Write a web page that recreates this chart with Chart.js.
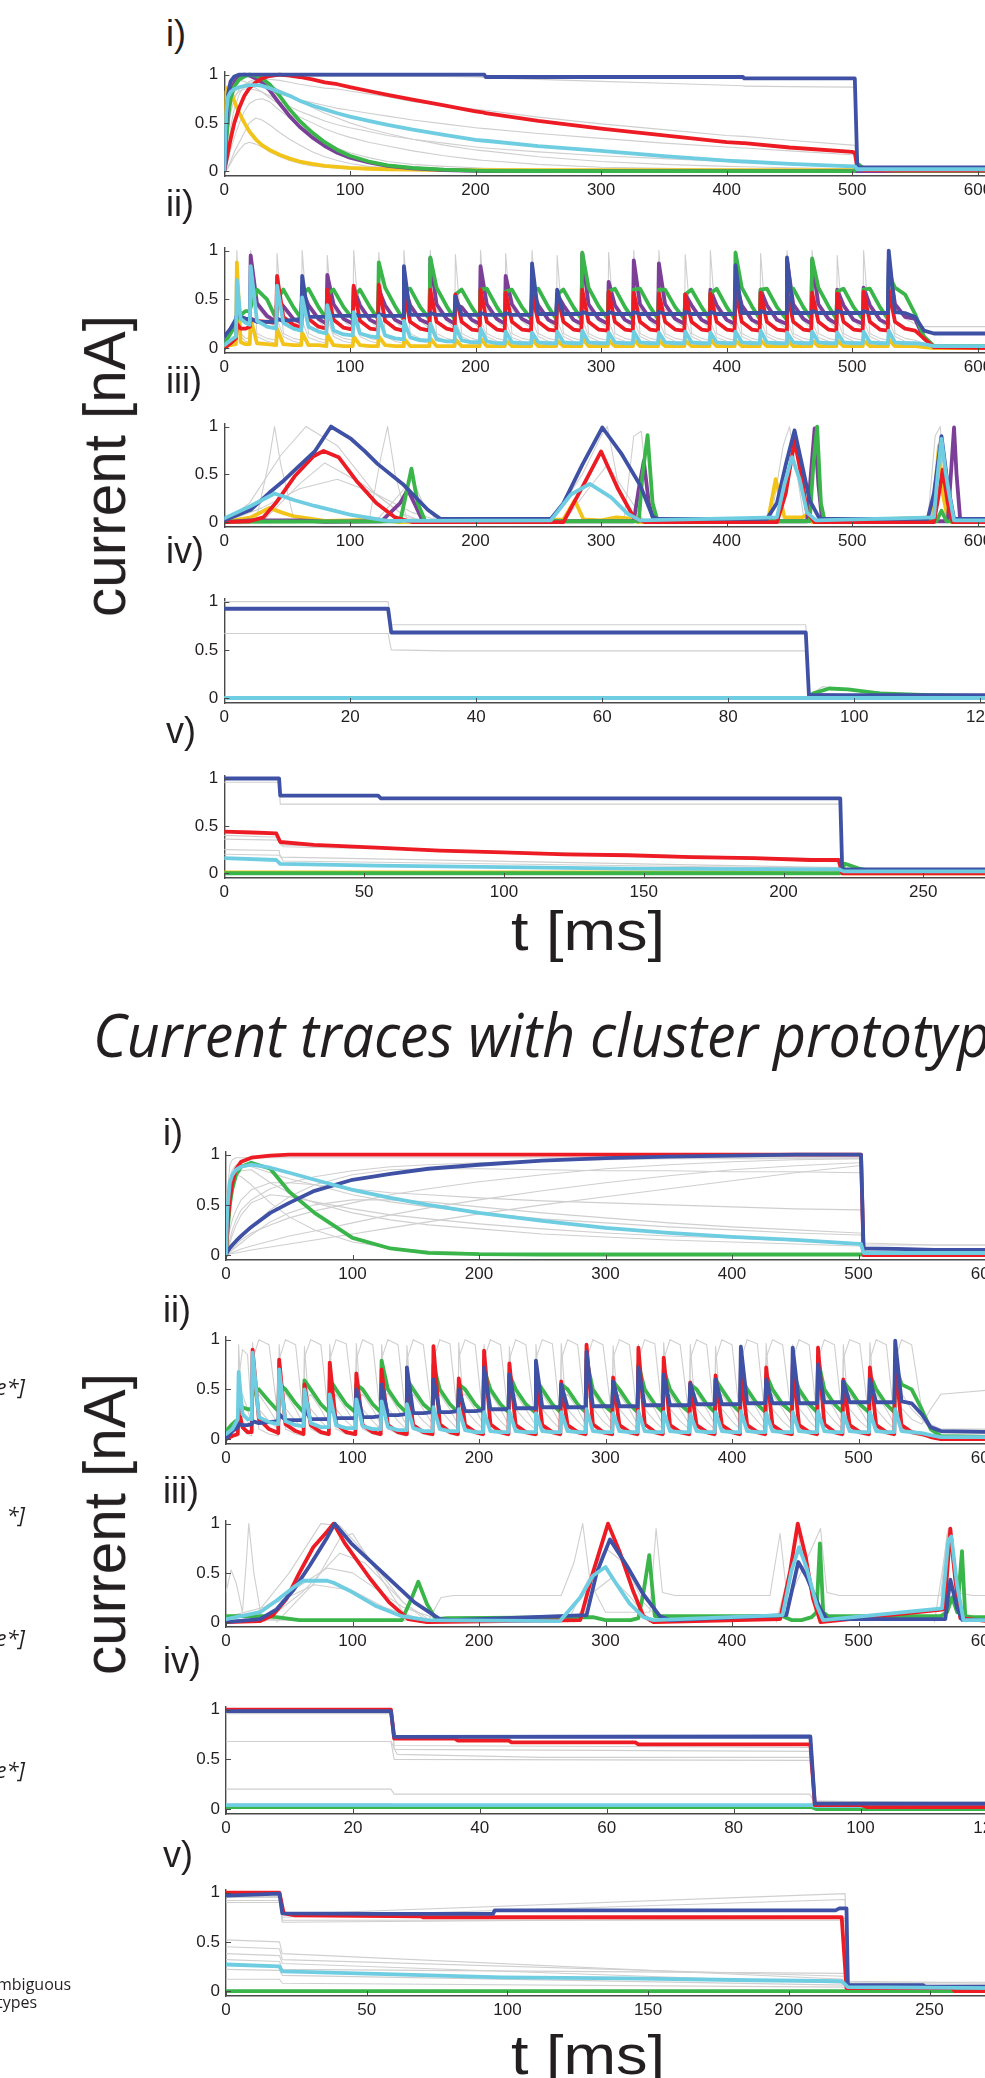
<!DOCTYPE html>
<html>
<head>
<meta charset="utf-8">
<title>Current traces with cluster prototypes</title>
<script src="https://cdn.jsdelivr.net/npm/chart.js@4.4.1/dist/chart.umd.min.js"></script>
<style>
html,body{margin:0;padding:0;background:#fff}
body{width:985px;height:2078px;overflow:hidden;position:relative;font-family:"Liberation Sans",Arial,sans-serif;color:#231f20}
canvas{position:absolute;left:0}
.lab{position:absolute;font-size:36px;line-height:1;white-space:nowrap}
.axl{position:absolute;white-space:nowrap;line-height:1}
.frag{position:absolute;white-space:nowrap;font-family:"Open Sans",sans-serif;line-height:1;color:#231f20}
</style>
</head>
<body>
<script>
const RED = '#ed1c24', BLUE = '#3f51a5', GREEN = '#39b54a', PURPLE = '#7b3f98',
      CYAN = '#6fcde2', YELLOW = '#f2c41a', GRAY = '#cfcfcf';

// tick values
const ticksMs600 = [0, 100, 200, 300, 400, 500, 600];
const ticksMs120 = [0, 20, 40, 60, 80, 100, 120];
const ticksMs250 = [0, 50, 100, 150, 200, 250];
const ticksCurrent = [0, 0.5, 1];

// ---------- top block, panel i (ms / nA) ----------
const tTopI = [0,1.5,3,5,8, 12,16,20,25,30, 36,44,52,60,70, 80,90,100,115,130, 150,175,200,207,208, 250,300,350,400,413, 414,450,500,502,504, 510,540,610];
const blueTopI = [0,0.45,0.8,0.93,0.98, 1,1,1,1,1, 1,1,1,1,1, 1,1,1,1,1, 1,1,1,1,0.975, 0.975,0.975,0.975,0.975,0.975, 0.96,0.96,0.96,0.96,0.04, 0.04,0.04,0.04];
const redTopI = [0,0.1,0.2,0.33,0.5, 0.66,0.78,0.86,0.92,0.96, 0.985,1,0.99,0.975,0.95, 0.92,0.9,0.87,0.83,0.79, 0.74,0.68,0.62,0.605,0.6, 0.52,0.44,0.37,0.3,0.29, 0.29,0.245,0.2,0.19,0.03, 0.01,0.005,0.005];
const greenTopI = [0,0.3,0.55,0.75,0.88, 0.95,0.98,1,0.99,0.96, 0.9,0.78,0.64,0.52,0.4, 0.3,0.22,0.16,0.1,0.06, 0.035,0.015,0.005,0.004,0.004, 0.002,0.001,0,0,0, 0,0,0,0.003,0.08, 0.02,0,0];
const purpleTopI = [0,0.35,0.6,0.8,0.92, 0.98,1,0.99,0.96,0.92, 0.84,0.7,0.57,0.46,0.35, 0.26,0.19,0.14,0.09,0.055, 0.03,0.01,0.003,0.002,0.002, 0,0,0,0,0, 0,0,0,0,0, 0,0,0];
const yellowTopI = [0,0.82,0.87,0.83,0.72, 0.6,0.5,0.41,0.33,0.27, 0.22,0.17,0.13,0.1,0.075, 0.055,0.045,0.035,0.025,0.02, 0.015,0.012,0.01,0.01,0.01, 0.01,0.01,0.01,0.01,0.01, 0.01,0.01,0.01,0.01,0, 0,0,0];
const cyanTopI = [0,0.6,0.77,0.82,0.85, 0.87,0.88,0.89,0.89,0.885, 0.86,0.82,0.78,0.73,0.68, 0.64,0.6,0.565,0.52,0.48, 0.43,0.375,0.325,0.315,0.315, 0.26,0.21,0.155,0.11,0.1, 0.1,0.075,0.05,0.05,0.02, 0.02,0.02,0.02];
const graysTopI = [
  [0,0.5,0.85,0.95,0.98, 0.98,0.98,0.98,0.98,0.98, 0.98,0.98,0.98,0.98,0.98, 0.98,0.98,0.98,0.98,0.98, 0.98,0.98,0.975,0.97,0.965, 0.95,0.93,0.91,0.89,0.885, 0.88,0.875,0.87,0.87,0.04, 0.04,0.03,0.03],
  [0,0.2,0.4,0.6,0.75, 0.85,0.9,0.93,0.95,0.96, 0.95,0.94,0.92,0.9,0.88, 0.86,0.85,0.83,0.8,0.77, 0.72,0.68,0.64,0.63,0.63, 0.56,0.49,0.43,0.37,0.36, 0.36,0.32,0.27,0.27,0.02, 0.02,0.02,0.02],
  [0,0.3,0.55,0.72,0.82, 0.87,0.89,0.9,0.89,0.87, 0.84,0.8,0.77,0.74,0.71, 0.68,0.65,0.63,0.6,0.57, 0.53,0.49,0.45,0.44,0.44, 0.39,0.34,0.29,0.25,0.24, 0.24,0.21,0.17,0.17,0.01, 0.01,0.01,0.01],
  [0,0.25,0.5,0.68,0.78, 0.83,0.85,0.85,0.84,0.82, 0.78,0.72,0.67,0.62,0.57, 0.52,0.48,0.45,0.41,0.37, 0.33,0.29,0.25,0.24,0.24, 0.2,0.16,0.13,0.1,0.1, 0.1,0.08,0.06,0.06,0.01, 0.01,0.01,0.01],
  [0,0.05,0.12,0.22,0.35, 0.5,0.62,0.7,0.74,0.75, 0.72,0.63,0.55,0.47,0.38, 0.3,0.24,0.19,0.14,0.1, 0.07,0.05,0.035,0.03,0.03, 0.02,0.015,0.01,0.01,0.01, 0.01,0.01,0.01,0.01,0, 0,0,0],
  [0,0.02,0.05,0.1,0.2, 0.3,0.4,0.5,0.55,0.53, 0.48,0.4,0.33,0.27,0.2, 0.15,0.11,0.08,0.05,0.035, 0.02,0.01,0.005,0,0, 0,0,0,0,0, 0,0,0,0,0, 0,0,0],
  [0,0.01,0.03,0.08,0.15, 0.22,0.28,0.3,0.28,0.25, 0.2,0.15,0.11,0.08,0.055, 0.04,0.03,0.02,0.015,0.01, 0.005,0,0,0,0, 0,0,0,0,0, 0,0,0,0,0, 0,0,0],
  [0,0.55,0.75,0.85,0.92, 0.94,0.93,0.9,0.86,0.82, 0.76,0.69,0.62,0.56,0.5, 0.44,0.39,0.35,0.3,0.26, 0.21,0.16,0.12,0.11,0.11, 0.07,0.04,0.03,0.02,0.02, 0.02,0.01,0.01,0.01,0, 0,0,0],
  [0,0.1,0.25,0.45,0.65, 0.8,0.88,0.92,0.93,0.92, 0.89,0.84,0.79,0.73,0.66, 0.6,0.55,0.5,0.44,0.39, 0.33,0.27,0.22,0.21,0.21, 0.15,0.1,0.07,0.05,0.045, 0.045,0.035,0.025,0.025,0.01, 0.01,0.01,0.01]
];

// ---------- panel ii time grid (both blocks): start, 27 spikes x [pre, spike, +5, +13], tail ----------
const tSpikes = [0,5,
  9.3,10,13,17, 20.3,21,26,34, 41.3,42,47,55, 61.3,62,67,75, 81.3,82,87,95,
  102.3,103,108,116, 122.3,123,128,136, 142.3,143,148,156, 163.3,164,169,177, 183.3,184,189,197,
  203.3,204,209,217, 223.3,224,229,237, 244.3,245,250,258, 264.3,265,270,278, 284.3,285,290,298,
  305.3,306,311,319, 325.3,326,331,339, 345.3,346,351,359, 366.3,367,372,380, 386.3,387,392,400,
  406.3,407,412,420, 426.3,427,432,440, 447.3,448,453,461, 467.3,468,473,481, 487.3,488,493,501,
  508.3,509,514,522, 528.3,529,534,542,
  550,557,565,610];

const yellowTopII = [0.02,0.03,
  0.04,0.88,0.06,0.04, 0.04,0.3,0.05,0.04, 0.03,0.2,0.04,0.03, 0.03,0.16,0.03,0.03, 0.02,0.14,0.03,0.02,
  0.02,0.12,0.03,0.02, 0.02,0.12,0.03,0.02, 0.02,0.1,0.02,0.02, 0.02,0.1,0.02,0.02, 0.02,0.09,0.02,0.02,
  0.02,0.1,0.02,0.02, 0.02,0.08,0.02,0.02, 0.02,0.09,0.02,0.02, 0.02,0.08,0.02,0.02, 0.02,0.1,0.02,0.02,
  0.02,0.08,0.02,0.02, 0.02,0.09,0.02,0.02, 0.02,0.08,0.02,0.02, 0.02,0.08,0.02,0.02, 0.02,0.09,0.02,0.02,
  0.02,0.08,0.02,0.02, 0.02,0.08,0.02,0.02, 0.02,0.09,0.02,0.02, 0.02,0.08,0.02,0.02, 0.02,0.08,0.02,0.02,
  0.02,0.08,0.02,0.02, 0.02,0.09,0.02,0.02,
  0.02,0.01,0,0];
const cyanTopII = [0.03,0.08,
  0.12,0.7,0.3,0.26, 0.24,0.84,0.28,0.22, 0.2,0.64,0.26,0.2, 0.18,0.52,0.22,0.17, 0.15,0.44,0.18,0.14,
  0.13,0.37,0.15,0.12, 0.11,0.33,0.13,0.1, 0.09,0.28,0.11,0.08, 0.08,0.25,0.09,0.07, 0.07,0.22,0.08,0.06,
  0.06,0.2,0.07,0.05, 0.05,0.17,0.06,0.05, 0.05,0.16,0.06,0.05, 0.05,0.17,0.06,0.05, 0.05,0.18,0.06,0.05,
  0.05,0.16,0.06,0.05, 0.05,0.17,0.06,0.05, 0.05,0.16,0.06,0.05, 0.05,0.17,0.06,0.05, 0.05,0.16,0.06,0.05,
  0.05,0.17,0.06,0.05, 0.05,0.18,0.06,0.05, 0.05,0.16,0.06,0.05, 0.05,0.17,0.06,0.05, 0.05,0.16,0.06,0.05,
  0.05,0.17,0.06,0.05, 0.05,0.18,0.06,0.05,
  0.05,0.04,0.02,0.02];
const redTopII = [0,0.05,
  0.1,0.25,0.2,0.2, 0.22,0.3,0.28,0.27, 0.26,0.74,0.32,0.24, 0.21,0.62,0.3,0.22, 0.2,0.6,0.29,0.21,
  0.19,0.64,0.28,0.2, 0.19,0.65,0.28,0.2, 0.18,0.58,0.27,0.2, 0.18,0.6,0.27,0.2, 0.18,0.55,0.27,0.19,
  0.18,0.6,0.27,0.19, 0.18,0.57,0.27,0.19, 0.18,0.56,0.27,0.19, 0.18,0.55,0.27,0.19, 0.18,0.6,0.27,0.19,
  0.18,0.58,0.27,0.19, 0.18,0.57,0.27,0.19, 0.18,0.56,0.27,0.19, 0.18,0.55,0.27,0.19, 0.18,0.56,0.27,0.19,
  0.18,0.6,0.27,0.19, 0.18,0.57,0.27,0.19, 0.18,0.58,0.27,0.19, 0.18,0.57,0.27,0.19, 0.18,0.56,0.27,0.19,
  0.18,0.58,0.27,0.19, 0.18,0.6,0.27,0.2,
  0.18,0.1,0.01,0];
const purpleTopII = [0.05,0.2,
  0.28,0.35,0.32,0.3, 0.3,0.95,0.46,0.33, 0.27,0.5,0.43,0.3, 0.26,0.6,0.44,0.3, 0.25,0.75,0.45,0.3,
  0.25,0.62,0.44,0.29, 0.25,0.6,0.44,0.29, 0.25,0.65,0.44,0.29, 0.25,0.92,0.45,0.3, 0.25,0.45,0.42,0.29,
  0.25,0.84,0.45,0.3, 0.25,0.74,0.45,0.3, 0.25,0.6,0.44,0.29, 0.25,0.55,0.44,0.29, 0.25,0.97,0.45,0.3,
  0.25,0.68,0.44,0.29, 0.25,0.9,0.45,0.3, 0.25,0.87,0.45,0.3, 0.25,0.55,0.44,0.29, 0.25,0.6,0.44,0.29,
  0.25,0.7,0.44,0.29, 0.25,0.6,0.44,0.29, 0.25,0.9,0.45,0.3, 0.25,0.9,0.45,0.3, 0.25,0.6,0.44,0.29,
  0.25,0.62,0.44,0.29, 0.25,0.9,0.45,0.32,
  0.3,0.1,0.01,0.01];
const greenTopII = [0.05,0.15,
  0.25,0.3,0.34,0.38, 0.38,0.42,0.6,0.5, 0.3,0.5,0.6,0.42, 0.3,0.55,0.61,0.42, 0.3,0.55,0.6,0.42,
  0.3,0.52,0.6,0.42, 0.3,0.88,0.62,0.43, 0.3,0.6,0.61,0.42, 0.3,0.93,0.62,0.43, 0.3,0.55,0.6,0.42,
  0.3,0.6,0.61,0.42, 0.3,0.58,0.6,0.42, 0.3,0.6,0.61,0.42, 0.3,0.55,0.6,0.42, 0.3,0.98,0.62,0.43,
  0.3,0.58,0.61,0.42, 0.3,0.6,0.61,0.42, 0.3,0.6,0.6,0.42, 0.3,0.55,0.6,0.42, 0.3,0.56,0.61,0.42,
  0.3,0.98,0.62,0.43, 0.3,0.6,0.61,0.42, 0.3,0.62,0.61,0.42, 0.3,0.92,0.62,0.43, 0.3,0.58,0.61,0.42,
  0.3,0.6,0.61,0.42, 0.3,0.75,0.62,0.55,
  0.35,0.12,0.02,0.02];
const blueTopII = [0.12,0.2,
  0.3,0.33,0.32,0.3, 0.28,0.3,0.27,0.27, 0.27,0.3,0.28,0.29, 0.3,0.74,0.32,0.32, 0.32,0.34,0.33,0.33,
  0.33,0.35,0.33,0.33, 0.33,0.35,0.33,0.33, 0.33,0.84,0.34,0.34, 0.34,0.36,0.34,0.34, 0.34,0.53,0.34,0.34,
  0.34,0.36,0.34,0.34, 0.34,0.36,0.34,0.34, 0.34,0.87,0.35,0.35, 0.35,0.6,0.35,0.35, 0.35,0.37,0.35,0.35,
  0.35,0.37,0.35,0.35, 0.35,0.37,0.35,0.35, 0.35,0.37,0.35,0.35, 0.35,0.37,0.35,0.35, 0.35,0.37,0.35,0.35,
  0.35,0.85,0.36,0.36, 0.36,0.38,0.36,0.36, 0.36,0.93,0.36,0.36, 0.36,0.38,0.36,0.36, 0.36,0.38,0.36,0.36,
  0.36,0.38,0.36,0.36, 0.36,1,0.37,0.36,
  0.32,0.18,0.15,0.15];
const graysTopII = [
  [0.05,0.1,
   0.08,1,0.15,0.1, 0.1,1,0.15,0.1, 0.08,0.97,0.15,0.1, 0.08,1,0.15,0.1, 0.08,0.95,0.15,0.1,
   0.08,1,0.15,0.1, 0.08,0.98,0.15,0.1, 0.08,1,0.15,0.1, 0.08,1,0.15,0.1, 0.08,0.96,0.15,0.1,
   0.08,1,0.15,0.1, 0.08,0.97,0.15,0.1, 0.08,1,0.15,0.1, 0.08,0.95,0.15,0.1, 0.08,1,0.15,0.1,
   0.08,0.98,0.15,0.1, 0.08,1,0.15,0.1, 0.08,1,0.15,0.1, 0.08,0.96,0.15,0.1, 0.08,1,0.15,0.1,
   0.08,1,0.15,0.1, 0.08,0.97,0.15,0.1, 0.08,1,0.15,0.1, 0.08,1,0.15,0.1, 0.08,0.95,0.15,0.1,
   0.08,1,0.15,0.1, 0.08,1,0.15,0.1,
   0.08,0.05,0.03,0.03],
  [0.1,0.2,
   0.2,0.45,0.4,0.28, 0.22,0.5,0.42,0.3, 0.2,0.46,0.4,0.28, 0.2,0.45,0.41,0.28, 0.2,0.47,0.4,0.28,
   0.2,0.45,0.4,0.28, 0.2,0.48,0.41,0.28, 0.2,0.45,0.4,0.28, 0.2,0.46,0.4,0.28, 0.2,0.45,0.41,0.28,
   0.2,0.47,0.4,0.28, 0.2,0.45,0.4,0.28, 0.2,0.46,0.41,0.28, 0.2,0.45,0.4,0.28, 0.2,0.48,0.4,0.28,
   0.2,0.45,0.41,0.28, 0.2,0.46,0.4,0.28, 0.2,0.45,0.4,0.28, 0.2,0.47,0.41,0.28, 0.2,0.45,0.4,0.28,
   0.2,0.46,0.4,0.28, 0.2,0.45,0.41,0.28, 0.2,0.48,0.4,0.28, 0.2,0.45,0.4,0.28, 0.2,0.46,0.41,0.28,
   0.2,0.45,0.4,0.28, 0.2,0.47,0.42,0.3,
   0.25,0.22,0.22,0.22],
  [0.02,0.05,
   0.05,0.3,0.12,0.07, 0.06,0.32,0.12,0.07, 0.05,0.3,0.12,0.07, 0.05,0.28,0.11,0.07, 0.05,0.3,0.12,0.07,
   0.05,0.29,0.12,0.07, 0.05,0.3,0.12,0.07, 0.05,0.28,0.11,0.07, 0.05,0.3,0.12,0.07, 0.05,0.29,0.12,0.07,
   0.05,0.3,0.12,0.07, 0.05,0.28,0.11,0.07, 0.05,0.3,0.12,0.07, 0.05,0.29,0.12,0.07, 0.05,0.3,0.12,0.07,
   0.05,0.28,0.11,0.07, 0.05,0.3,0.12,0.07, 0.05,0.29,0.12,0.07, 0.05,0.3,0.12,0.07, 0.05,0.28,0.11,0.07,
   0.05,0.3,0.12,0.07, 0.05,0.29,0.12,0.07, 0.05,0.3,0.12,0.07, 0.05,0.28,0.11,0.07, 0.05,0.3,0.12,0.07,
   0.05,0.29,0.12,0.07, 0.05,0.3,0.12,0.07,
   0.05,0.03,0.02,0.02]
];

// ---------- top block, panel iii (each trace on its own times) ----------
const blueTopIIIt = [0,21,36,46,59, 72,85,101,112,122, 142,162,172,260,270, 285,301,316,331,341, 345,432,440,447,454, 460,466,474,560,565, 571,576,581,610];
const blueTopIIIv = [0.02,0.13,0.31,0.42,0.58, 0.74,1,0.87,0.74,0.61, 0.4,0.13,0.035,0.035,0.2, 0.6,0.99,0.72,0.39,0.06, 0.035,0.035,0.2,0.6,0.96, 0.6,0.23,0.035,0.035,0.3, 0.9,0.39,0.035,0.035];
const redTopIIIt = [0,20,31,41,56, 71,79,91,106,121, 136,150,270,286,300, 313,326,335,440,447, 454,460,464,470,565, 569,572,576,580,610];
const redTopIIIv = [0,0.01,0.05,0.2,0.48, 0.69,0.745,0.68,0.42,0.2, 0.05,0,0,0.39,0.74, 0.36,0.05,0,0,0.3, 0.85,0.45,0.1,0,0, 0.3,0.55,0.2,0,0];
const greenTopIIIt = [0,140,144,149,154, 160,330,333,337,341, 345,466,469,472,475, 478,567,571,575,610];
const greenTopIIIv = [0.005,0.01,0.25,0.56,0.2, 0.01,0.01,0.5,0.91,0.2, 0.01,0.01,0.6,1,0.2, 0.01,0.01,0.12,0.01,0.005];
const purpleTopIIIt = [0,20,40,60,80, 125,140,146,152,158, 326,330,334,338,342, 464,467,470,473,476, 576,579,581,583,586, 610];
const purpleTopIIIv = [0,0.02,0.02,0.02,0.005, 0.01,0.2,0.34,0.18,0.01, 0.01,0.35,0.64,0.2,0.01, 0.01,0.5,0.98,0.4,0.01, 0.01,0.6,0.99,0.5,0.01, 0];
const cyanTopIIIt = [0,21,40,56,72, 100,130,260,276,291, 308,321,331,440,446, 452,458,464,471,565, 568,571,574,577,581, 610];
const cyanTopIIIv = [0.04,0.17,0.3,0.23,0.17, 0.08,0.015,0.02,0.29,0.4, 0.26,0.09,0.02,0.05,0.4, 0.68,0.45,0.1,0.02,0.05, 0.5,0.87,0.55,0.3,0.02, 0.02];
const yellowTopIIIt = [0,21,36,46,56, 80,100,121,140,270, 279,286,300,312,322, 330,433,439,446,460, 464,468,564,569,572, 575,579,610];
const yellowTopIIIv = [0,0.05,0.15,0.1,0.06, 0.015,0.02,0.03,0,0.03, 0.23,0.03,0.02,0.05,0.04, 0,0.03,0.45,0.05,0.05, 0.08,0,0.05,0.8,0.3, 0.1,0,0];
const graysTopIII = [
  [[0,20,45,65,90,120,145,170], [0,0.2,0.7,1,0.8,0.3,0.05,0]],
  [[25,35,40,45,55], [0,0.6,1,0.6,0.05]],
  [[30,60,80,110,140,160], [0,0.4,0.62,0.4,0.1,0]],
  [[115,125,130,136,145], [0,0.7,1,0.5,0.05]],
  [[260,285,300,305,315,330], [0,0.5,0.9,1,0.3,0]],
  [[318,326,332,338,346], [0,0.9,0.95,0.2,0]],
  [[435,445,450,456,462], [0,0.8,1,0.5,0]],
  [[560,566,570,574,580], [0,0.9,1,0.4,0]],
  [[0,30,60,90,120,150,175], [0,0.15,0.35,0.45,0.3,0.1,0]],
  [[270,290,305,320,335], [0,0.35,0.6,0.3,0]],
  [[120,140,150,158,170], [0,0.3,0.45,0.2,0]]
];

// ---------- top block, panel iv ----------
const blueTopIVt = [0,26,26.5,92.3,92.8,121];
const blueTopIVv = [0.926,0.926,0.68,0.68,0.03,0.03];
const greenTopIVt = [0,92.5,93.5,96,99,104,112,121];
const greenTopIVv = [0,0,0.05,0.1,0.09,0.05,0.03,0.02];
const cyanTopIVt = [0,92.5,93,121];
const cyanTopIVv = [0.002,0.002,0.002,0.002];
const purpleTopIVt = [0,92.5,94,100,121];
const purpleTopIVv = [0,0,0.03,0.02,0.02];
const graysTopIV = [
  [[0,26,26.5,92.3,92.8,121], [1,1,0.76,0.76,0.03,0.03]],
  [[0,26,26.5,35,92.3,92.8,121], [0.67,0.67,0.5,0.49,0.49,0.02,0.02]],
  [[0,92.5,95,100,110,121], [0.01,0.01,0.12,0.08,0.04,0.03]]
];

// ---------- top block, panel v ----------
const blueTopVt = [0,19.6,20,55,56,220.3,221,275];
const blueTopVv = [1,1,0.82,0.82,0.79,0.79,0.04,0.04];
const redTopVt = [0,10,18.6,20,32,54.5,77,99.5,122,144.5,167,189.3,209.6,219.7,221,275];
const redTopVv = [0.44,0.43,0.42,0.33,0.3,0.27,0.24,0.22,0.2,0.19,0.17,0.16,0.14,0.14,0,0];
const cyanTopVt = [0,18.6,20,54.5,99.5,144.5,211.6,220,221.5,275];
const cyanTopVv = [0.16,0.14,0.1,0.08,0.065,0.05,0.04,0.04,0.02,0.02];
const yellowTopVt = [0,220,221,275];
const yellowTopVv = [0.01,0.01,0,0];
const greenTopVt = [0,220,222,227,232,275];
const greenTopVv = [0,0,0.1,0.05,0.02,0.01];
const graysTopV = [
  [[0,19.6,20,220.3,221,275], [0.96,0.96,0.73,0.73,0.03,0.03]],
  [[0,19.6,20,220.3,221,275], [0.4,0.38,0.3,0.12,0.01,0.01]],
  [[0,19.6,20,220,221,275], [0.25,0.24,0.17,0.06,0.02,0.02]],
  [[0,20,21,220,221,275], [0.2,0.19,0.13,0.05,0.01,0.01]],
  [[0,20,21,220,221,275], [0.36,0.35,0.28,0.15,0.01,0.01]]
];

// ---------- bottom block, panel i ----------
const tBotI = [0,1,3,5,8, 12,20,35,50,70, 100,130,160,200,250, 300,350,400,450,500, 502,504,530,560,610];
const redBotI = [0,0.25,0.55,0.72,0.86, 0.93,0.97,0.99,1,1, 1,1,1,1,1, 1,1,1,1,1, 1,0,0,0,0];
const greenBotI = [0,0.2,0.5,0.66,0.8, 0.88,0.92,0.86,0.63,0.42, 0.17,0.065,0.022,0.008,0.005, 0.005,0.005,0.005,0.005,0.005, 0.005,0,0,0,0];
const cyanBotI = [0,0.45,0.72,0.8,0.85, 0.88,0.9,0.87,0.82,0.75, 0.65,0.57,0.5,0.42,0.34, 0.27,0.22,0.18,0.15,0.11, 0.11,0.02,0.02,0.02,0.02];
const blueBotI = [0,0.03,0.07,0.1,0.14, 0.19,0.28,0.42,0.52,0.64, 0.75,0.81,0.86,0.9,0.94, 0.965,0.98,0.99,1,1, 1,0.065,0.06,0.05,0.05];
const graysBotI = [
  [0,0.01,0.04,0.06,0.1, 0.15,0.22,0.3,0.37,0.44, 0.52,0.6,0.66,0.73,0.8, 0.86,0.9,0.93,0.95,0.96, 0.96,0.05,0.05,0.04,0.04],
  [0,0.005,0.015,0.025,0.04, 0.06,0.09,0.14,0.19,0.24, 0.32,0.4,0.47,0.55,0.64, 0.72,0.79,0.85,0.89,0.92, 0.92,0.08,0.07,0.06,0.06],
  [0,0,0.01,0.015,0.02, 0.03,0.05,0.08,0.11,0.15, 0.21,0.27,0.33,0.41,0.5, 0.58,0.66,0.74,0.82,0.89, 0.89,0.05,0.05,0.05,0.05],
  [0,0.05,0.15,0.25,0.35, 0.45,0.55,0.66,0.72,0.78, 0.84,0.88,0.9,0.92,0.94, 0.95,0.96,0.96,0.96,0.96, 0.96,0.1,0.1,0.1,0.1],
  [0,0.4,0.75,0.85,0.9, 0.9,0.88,0.82,0.76,0.7, 0.6,0.53,0.48,0.42,0.36, 0.32,0.28,0.25,0.22,0.2, 0.2,0.03,0.03,0.03,0.03],
  [0,0.3,0.6,0.72,0.8, 0.84,0.85,0.72,0.62,0.52, 0.42,0.35,0.3,0.26,0.21, 0.18,0.15,0.13,0.11,0.09, 0.09,0.02,0.02,0.02,0.02],
  [0,0.05,0.12,0.2,0.3, 0.4,0.52,0.6,0.58,0.53, 0.46,0.4,0.36,0.31,0.26, 0.22,0.19,0.17,0.14,0.12, 0.12,0.01,0.01,0.01,0.01],
  [0,0.35,0.65,0.75,0.8, 0.78,0.7,0.52,0.38,0.25, 0.13,0.07,0.04,0.02,0.01, 0.005,0,0,0,0, 0,0,0,0,0],
  [0,0.01,0.03,0.05,0.08, 0.12,0.2,0.33,0.42,0.5, 0.55,0.55,0.53,0.48,0.42, 0.37,0.32,0.28,0.25,0.22, 0.22,0.02,0.02,0.02,0.02],
  [0,0.6,0.9,0.95,0.97, 0.97,0.97,0.97,0.97,0.97, 0.97,0.97,0.97,0.97,0.97, 0.97,0.97,0.97,0.97,0.97, 0.97,0.12,0.11,0.1,0.1],
  [0,0.1,0.25,0.35,0.45, 0.55,0.65,0.72,0.72,0.7, 0.66,0.62,0.6,0.57,0.54, 0.52,0.5,0.48,0.46,0.45, 0.45,0.02,0.02,0.02,0.02],
  [0,0.02,0.05,0.08,0.12, 0.18,0.28,0.45,0.58,0.7, 0.8,0.85,0.86,0.86,0.85, 0.84,0.84,0.83,0.83,0.82, 0.82,0.06,0.06,0.06,0.06]
];

// ---------- bottom block, panel ii (on tSpikes) ----------
const redBotII = [0,0.03,
  0.05,0.3,0.12,0.07, 0.07,0.9,0.2,0.1, 0.06,0.8,0.15,0.08, 0.05,0.55,0.14,0.07, 0.05,0.77,0.15,0.07,
  0.05,0.66,0.14,0.07, 0.05,0.7,0.14,0.07, 0.05,0.62,0.14,0.07, 0.05,0.935,0.15,0.07, 0.05,0.61,0.14,0.07,
  0.05,0.89,0.15,0.07, 0.05,0.76,0.14,0.07, 0.05,0.7,0.14,0.07, 0.05,0.58,0.14,0.07, 0.05,0.95,0.15,0.07,
  0.05,0.62,0.14,0.07, 0.05,0.92,0.15,0.07, 0.05,0.82,0.14,0.07, 0.05,0.57,0.14,0.07, 0.05,0.64,0.14,0.07,
  0.05,0.7,0.14,0.07, 0.05,0.72,0.14,0.07, 0.05,0.75,0.14,0.07, 0.05,0.92,0.15,0.07, 0.05,0.6,0.14,0.07,
  0.05,0.72,0.14,0.07, 0.05,0.8,0.14,0.07,
  0.05,0.02,0,0];
const greenBotII = [0.08,0.15,
  0.2,0.3,0.32,0.3, 0.3,0.45,0.5,0.38, 0.28,0.55,0.5,0.36, 0.27,0.59,0.5,0.35, 0.27,0.6,0.5,0.35,
  0.27,0.55,0.5,0.35, 0.27,0.79,0.5,0.35, 0.27,0.6,0.5,0.35, 0.27,0.75,0.5,0.35, 0.27,0.55,0.5,0.35,
  0.27,0.7,0.5,0.35, 0.27,0.65,0.5,0.35, 0.27,0.6,0.5,0.35, 0.27,0.55,0.5,0.35, 0.27,0.8,0.5,0.35,
  0.27,0.58,0.5,0.35, 0.27,0.75,0.5,0.35, 0.27,0.7,0.5,0.35, 0.27,0.55,0.5,0.35, 0.27,0.6,0.5,0.35,
  0.27,0.62,0.5,0.35, 0.27,0.65,0.5,0.35, 0.27,0.68,0.5,0.35, 0.27,0.8,0.5,0.35, 0.27,0.58,0.5,0.35,
  0.27,0.65,0.5,0.35, 0.27,0.75,0.55,0.5,
  0.3,0.1,0.03,0.02];
const blueBotII = [0,0.08,
  0.12,0.15,0.14,0.14, 0.15,0.18,0.16,0.17, 0.18,0.25,0.19,0.19, 0.19,0.3,0.2,0.2, 0.2,0.35,0.21,0.21,
  0.21,0.5,0.22,0.22, 0.23,0.55,0.24,0.24, 0.25,0.72,0.26,0.26, 0.27,0.6,0.27,0.27, 0.28,0.5,0.28,0.28,
  0.29,0.72,0.3,0.3, 0.3,0.65,0.31,0.31, 0.31,0.79,0.32,0.32, 0.32,0.55,0.32,0.32, 0.32,0.88,0.33,0.33,
  0.33,0.58,0.33,0.33, 0.33,0.72,0.34,0.34, 0.34,0.65,0.34,0.34, 0.34,0.56,0.35,0.35, 0.35,0.6,0.35,0.35,
  0.35,0.93,0.36,0.36, 0.36,0.6,0.36,0.36, 0.36,0.92,0.36,0.36, 0.36,0.75,0.37,0.37, 0.37,0.58,0.37,0.37,
  0.37,0.6,0.37,0.37, 0.37,0.99,0.38,0.36,
  0.25,0.12,0.08,0.07];
const cyanBotII = [0.05,0.1,
  0.2,0.675,0.25,0.2, 0.2,0.87,0.22,0.17, 0.15,0.7,0.18,0.14, 0.13,0.5,0.16,0.12, 0.12,0.45,0.14,0.11,
  0.11,0.4,0.13,0.1, 0.1,0.38,0.12,0.09, 0.09,0.35,0.11,0.08, 0.08,0.32,0.1,0.08, 0.08,0.3,0.09,0.07,
  0.07,0.27,0.08,0.07, 0.07,0.28,0.08,0.07, 0.07,0.26,0.08,0.07, 0.07,0.27,0.08,0.07, 0.07,0.3,0.08,0.07,
  0.07,0.26,0.08,0.07, 0.07,0.28,0.08,0.07, 0.07,0.27,0.08,0.07, 0.07,0.25,0.08,0.07, 0.07,0.27,0.08,0.07,
  0.07,0.28,0.08,0.07, 0.07,0.26,0.08,0.07, 0.07,0.27,0.08,0.07, 0.07,0.28,0.08,0.07, 0.07,0.26,0.08,0.07,
  0.07,0.27,0.08,0.07, 0.07,0.3,0.08,0.07,
  0.06,0.04,0.02,0.02];
const graysBotII = [
  [0.05,0.1,
   0.15,0.6,0.9,0.85, 0.2,0.8,1,0.95, 0.2,0.8,1,0.95, 0.2,0.82,1,0.95, 0.2,0.8,1,0.96,
   0.2,0.8,1,0.95, 0.2,0.81,1,0.95, 0.2,0.8,1,0.95, 0.2,0.8,1,0.96, 0.2,0.82,1,0.95,
   0.2,0.8,1,0.95, 0.2,0.8,1,0.95, 0.2,0.81,1,0.96, 0.2,0.8,1,0.95, 0.2,0.8,1,0.95,
   0.2,0.82,1,0.95, 0.2,0.8,1,0.96, 0.2,0.8,1,0.95, 0.2,0.81,1,0.95, 0.2,0.8,1,0.95,
   0.2,0.8,1,0.96, 0.2,0.82,1,0.95, 0.2,0.8,1,0.95, 0.2,0.8,1,0.95, 0.2,0.81,1,0.96,
   0.2,0.8,1,0.95, 0.2,0.8,1,0.95,
   0.3,0.15,0.1,0.1],
  [0.02,0.05,
   0.1,0.5,0.3,0.18, 0.1,0.52,0.3,0.18, 0.1,0.5,0.31,0.18, 0.1,0.48,0.3,0.18, 0.1,0.5,0.3,0.18,
   0.1,0.51,0.3,0.18, 0.1,0.5,0.31,0.18, 0.1,0.49,0.3,0.18, 0.1,0.5,0.3,0.18, 0.1,0.52,0.3,0.18,
   0.1,0.5,0.31,0.18, 0.1,0.48,0.3,0.18, 0.1,0.5,0.3,0.18, 0.1,0.51,0.3,0.18, 0.1,0.5,0.31,0.18,
   0.1,0.49,0.3,0.18, 0.1,0.5,0.3,0.18, 0.1,0.52,0.3,0.18, 0.1,0.5,0.31,0.18, 0.1,0.48,0.3,0.18,
   0.1,0.5,0.3,0.18, 0.1,0.51,0.3,0.18, 0.1,0.5,0.31,0.18, 0.1,0.49,0.3,0.18, 0.1,0.5,0.3,0.18,
   0.1,0.52,0.3,0.18, 0.1,0.5,0.31,0.2,
   0.15,0.3,0.45,0.5],
  [0.05,0.1,
   0.15,0.4,0.45,0.3, 0.15,0.42,0.45,0.3, 0.15,0.4,0.46,0.3, 0.15,0.38,0.45,0.3, 0.15,0.4,0.45,0.3,
   0.15,0.41,0.45,0.3, 0.15,0.4,0.46,0.3, 0.15,0.39,0.45,0.3, 0.15,0.4,0.45,0.3, 0.15,0.42,0.45,0.3,
   0.15,0.4,0.46,0.3, 0.15,0.38,0.45,0.3, 0.15,0.4,0.45,0.3, 0.15,0.41,0.45,0.3, 0.15,0.4,0.46,0.3,
   0.15,0.39,0.45,0.3, 0.15,0.4,0.45,0.3, 0.15,0.42,0.45,0.3, 0.15,0.4,0.46,0.3, 0.15,0.38,0.45,0.3,
   0.15,0.4,0.45,0.3, 0.15,0.41,0.45,0.3, 0.15,0.4,0.46,0.3, 0.15,0.39,0.45,0.3, 0.15,0.4,0.45,0.3,
   0.15,0.42,0.45,0.3, 0.15,0.4,0.46,0.3,
   0.2,0.1,0.05,0.05],
  [0.01,0.02,
   0.03,0.95,0.1,0.05, 0.03,0.97,0.1,0.05, 0.03,0.95,0.1,0.05, 0.03,0.93,0.1,0.05, 0.03,0.95,0.1,0.05,
   0.03,0.96,0.1,0.05, 0.03,0.95,0.1,0.05, 0.03,0.94,0.1,0.05, 0.03,0.95,0.1,0.05, 0.03,0.97,0.1,0.05,
   0.03,0.95,0.1,0.05, 0.03,0.93,0.1,0.05, 0.03,0.95,0.1,0.05, 0.03,0.96,0.1,0.05, 0.03,0.95,0.1,0.05,
   0.03,0.94,0.1,0.05, 0.03,0.95,0.1,0.05, 0.03,0.97,0.1,0.05, 0.03,0.95,0.1,0.05, 0.03,0.93,0.1,0.05,
   0.03,0.95,0.1,0.05, 0.03,0.96,0.1,0.05, 0.03,0.95,0.1,0.05, 0.03,0.94,0.1,0.05, 0.03,0.95,0.1,0.05,
   0.03,0.97,0.1,0.05, 0.03,0.95,0.1,0.05,
   0.03,0.02,0.02,0.02]
];

// ---------- bottom block, panel iii ----------
const redBotIIIt = [0,27,37,48,58, 69,80,85,94,114, 129,144,159,280,290, 302,311,322,330,338, 438,446,452,458,464, 470,568,572.6,576.5,580.5, 610];
const redBotIIIv = [0,0.01,0.07,0.24,0.5, 0.76,0.92,1,0.8,0.44, 0.2,0.03,0,0.02,0.5, 1,0.72,0.31,0.06,0, 0.03,0.52,1,0.68,0.24, 0,0.13,0.95,0.43,0.04, 0];
const blueBotIIIt = [0,27,40,53,66, 80,86,99,124,149, 169,179,285,293,303.5, 317,330,343,351,443, 452.4,459,469.5,475,568.6, 572.6,578,582,610];
const blueBotIIIv = [0,0.03,0.13,0.32,0.57, 0.86,1,0.8,0.5,0.2, 0.03,0.02,0.07,0.5,0.84, 0.57,0.28,0.06,0.02,0.07, 0.61,0.46,0.14,0.03,0.03, 0.43,0.14,0.02,0.02];
const cyanBotIIIt = [0,27,40,53,61, 80,85,99,119,139, 159,264,280,290,300, 309,319,330,338,440, 447,453,459,467,472, 566,571,573.4,578,583, 610];
const cyanBotIIIv = [0.03,0.1,0.22,0.35,0.42, 0.42,0.4,0.31,0.16,0.06, 0.02,0.01,0.25,0.47,0.56, 0.38,0.19,0.05,0.02,0.07, 0.52,0.76,0.55,0.17,0.02, 0.14,0.83,0.87,0.37,0.02, 0.02];
const greenBotIIIt = [0,30,40,58,139, 147,152,159,166,175, 290,300,320,326,330, 334.6,339,345,440,447, 455,463,466.8,469.5,472.1, 476,565,570,574,578, 581.8,584.4,590,610];
const greenBotIIIv = [0.06,0.06,0.05,0.02,0.02, 0.25,0.41,0.18,0.03,0.04, 0.05,0.02,0.02,0.04,0.3, 0.68,0.06,0.06,0.06,0.02, 0.02,0.05,0.1,0.8,0.1, 0.06,0.06,0.1,0.25,0.1, 0.72,0.06,0.05,0.05];
const graysBotIII = [
  [[0,4,8,13,16,18,22,28,40], [0.3,0.53,0.4,0.1,0.6,1,0.5,0.05,0.02]],
  [[20,50,75,90,110,140,160], [0.02,0.5,1,0.98,0.7,0.2,0.03]],
  [[30,60,90,110,140,160], [0,0.3,0.7,0.6,0.2,0]],
  [[10,40,70,100,125,150,170], [0,0.2,0.38,0.32,0.15,0.05,0]],
  [[40,70,90,100,120,140,155], [0,0.4,0.85,0.9,0.5,0.1,0]],
  [[0,160,170,180,265, 275,282,288,300,335, 340,345,355,430,438, 444,470,475,485,565, 570,578,590,610],
   [0.02,0.02,0.25,0.27,0.27, 0.6,1,0.4,0.1,0.1, 0.95,0.3,0.27,0.27,0.9, 0.2,0.95,0.3,0.27,0.27, 0.9,0.3,0.27,0.27]],
  [[270,285,300,315,330,345], [0,0.4,0.75,0.6,0.2,0]],
  [[275,290,305,320,335], [0,0.3,0.45,0.25,0]],
  [[435,445,452,460,470], [0,0.5,0.9,0.4,0]],
  [[560,566,571,576,585], [0,0.5,0.95,0.4,0]],
  [[0,30,50,80,100,140,170], [0.05,0.15,0.3,0.55,0.5,0.15,0.02]]
];

// ---------- bottom block, panel iv ----------
const blueBotIVt = [0,26,26.5,92.1,92.8,120];
const blueBotIVv = [0.985,0.985,0.726,0.73,0.055,0.055];
const redBotIVt = [0,26,26.5,36,36.5,44.5,45,64.5,65,92.1,92.8,100,101,120];
const redBotIVv = [1,1,0.71,0.71,0.69,0.69,0.67,0.67,0.65,0.65,0.04,0.04,0.02,0.02];
const cyanBotIVt = [0,92.3,93,120];
const cyanBotIVv = [0.04,0.04,0.03,0.03];
const greenBotIVt = [0,92.3,93,120];
const greenBotIVv = [0.02,0.02,0,0];
const graysBotIV = [
  [[0,26,26.5,92,92.8,120], [0.96,0.96,0.74,0.74,0.06,0.06]],
  [[0,26,26.5,92,92.8,120], [0.68,0.68,0.5,0.49,0.05,0.05]],
  [[0,26,26.5,92,92.8,120], [0.2,0.2,0.15,0.15,0.06,0.06]],
  [[0,26,26.5,92,92.8,120], [0.98,0.98,0.64,0.62,0.07,0.07]],
  [[0,26,26.5,92,92.8,120], [0.97,0.97,0.6,0.58,0.08,0.06]],
  [[0,26,26.5,92,92.8,120], [0.05,0.05,0.04,0.04,0.08,0.05]],
  [[0,26,27,50,92,92.8,120], [0.68,0.68,0.55,0.52,0.52,0.04,0.04]]
];

// ---------- bottom block, panel v ----------
const blueBotVt = [0,19,20,53.6,94.9,95.5,216.6,218,220.5,221,247.8,248.5,275];
const blueBotVv = [0.97,0.99,0.79,0.785,0.785,0.82,0.82,0.84,0.84,0.06,0.06,0.045,0.045];
const redBotVt = [0,19,20.5,24.6,69.2,70,218.8,220.5,258,259,275];
const redBotVv = [1,1,0.79,0.77,0.76,0.75,0.75,0.03,0.03,0,0];
const cyanBotVt = [0,19,20,53.6,98,142.6,187.2,218.8,221,275];
const cyanBotVv = [0.27,0.25,0.2,0.175,0.14,0.13,0.11,0.1,0.04,0.03];
const greenBotVt = [0,220,221,275];
const greenBotVv = [0,0,0,0];
const graysBotV = [
  [[0,19,20,220,221,275], [0.95,0.95,0.78,0.99,0.1,0.08]],
  [[0,19,20,220,221,275], [0.92,0.92,0.75,0.93,0.08,0.07]],
  [[0,19,20,220,221,275], [0.96,0.96,0.72,0.72,0.05,0.05]],
  [[0,19,20,220,221,275], [0.9,0.9,0.7,0.74,0.06,0.05]],
  [[0,19,20,220,221,275], [0.52,0.5,0.38,0.12,0.04,0.04]],
  [[0,19,20,220,221,275], [0.45,0.43,0.32,0.15,0.05,0.05]],
  [[0,19,20,220,221,275], [0.38,0.36,0.28,0.08,0.03,0.03]],
  [[0,19,20,220,221,275], [0.32,0.3,0.22,0.18,0.09,0.09]],
  [[0,19,20,220,221,275], [0.22,0.21,0.16,0.06,0.02,0.02]],
  [[0,19,20,220,221,275], [0.12,0.12,0.08,0.04,0.02,0.02]]
];

// ---------- helpers ----------
const FONT = '"Liberation Sans", Arial, sans-serif';
const AXIS = '#4a4a4a', TXT = '#231f20';

function ser(t, v, color, w) {
  if (t.length !== v.length) console.error('length mismatch', color, t.length, v.length);
  return {
    data: t.map((x, i) => ({x: x, y: v[i]})),
    borderColor: color, borderWidth: w, pointRadius: 0, tension: 0, fill: false,
    borderJoinStyle: 'round', borderCapStyle: 'round'
  };
}
const bold = (t, v, c) => ser(t, v, c, 3.8);
const gray = (t, v) => ser(t, v, GRAY, 1.1);

// inward tick marks, matlab style
const inTicks = {
  id: 'inTicks',
  afterDraw(chart) {
    const {ctx, chartArea: a, scales: {x, y}} = chart;
    ctx.save();
    ctx.strokeStyle = AXIS; ctx.lineWidth = 1;
    ctx.beginPath();
    x.ticks.forEach(tk => {
      const px = Math.round(x.getPixelForValue(tk.value)) + 0.5;
      ctx.moveTo(px, a.bottom); ctx.lineTo(px, a.bottom - 5);
    });
    y.ticks.forEach(tk => {
      const py = Math.round(y.getPixelForValue(tk.value)) + 0.5;
      ctx.moveTo(a.left, py); ctx.lineTo(a.left + 5, py);
    });
    ctx.stroke();
    ctx.restore();
  }
};

function addText(txt, cls, css) {
  const d = document.createElement('div');
  d.className = cls; d.textContent = txt;
  Object.assign(d.style, css);
  document.body.appendChild(d);
  return d;
}

function panel(p) {
  const unit = p.y0 - p.y1, yMin = -0.05, yMax = 1.035, axisH = 34, W = 1010;
  const areaTop = p.y1 - (yMax - 1) * unit;
  const cTop = Math.floor(areaTop - 8);
  const padTop = areaTop - cTop;
  const cv = document.createElement('canvas');
  cv.width = W;
  cv.height = Math.ceil(padTop + (yMax - yMin) * unit + axisH);
  cv.style.top = cTop + 'px';
  document.body.appendChild(cv);

  new Chart(cv, {
    type: 'line',
    data: {datasets: p.sets.slice().reverse()},
    options: {
      animation: false, responsive: false, devicePixelRatio: 1, events: [],
      layout: {padding: {top: padTop, left: 0, right: 0, bottom: 0}, autoPadding: false},
      plugins: {legend: {display: false}, tooltip: {enabled: false}},
      scales: {
        x: {
          type: 'linear', min: 0, max: (W - p.x0) / p.ppu,
          grid: {display: false, drawTicks: false},
          border: {display: true, color: AXIS, width: 1.4},
          ticks: {autoSkip: false, maxRotation: 0, padding: 4, color: TXT, font: {family: FONT, size: 17}, callback: v => String(v)},
          afterBuildTicks: s => { s.ticks = p.xt.map(v => ({value: v})); },
          afterFit: s => { s.height = axisH; }
        },
        y: {
          type: 'linear', min: yMin, max: yMax,
          grid: {display: false, drawTicks: false},
          border: {display: true, color: AXIS, width: 1.4},
          ticks: {padding: 6, color: TXT, font: {family: FONT, size: 17}, callback: v => String(v)},
          afterBuildTicks: s => { s.ticks = ticksCurrent.map(v => ({value: v})); },
          afterFit: s => { s.width = p.x0; }
        }
      }
    },
    plugins: [inTicks]
  });

  addText(p.lab, 'lab', {left: p.lx + 'px', top: (p.ly - 4) + 'px'});
}

const gl = (list) => list.map(g => gray(g[0], g[1]));
const glGrid = (t, list) => list.map(v => gray(t, v));

// ---------- panels ----------
const panels = [
  {x0: 224.3, ppu: 1.256, y1: 66.7, y0: 170.7, xt: ticksMs600, lab: 'i)', lx: 166, ly: 20,
   sets: [...glGrid(tTopI, graysTopI), bold(tTopI, yellowTopI, YELLOW), bold(tTopI, purpleTopI, PURPLE),
          bold(tTopI, greenTopI, GREEN), bold(tTopI, redTopI, RED), bold(tTopI, blueTopI, BLUE), bold(tTopI, cyanTopI, CYAN)]},
  {x0: 224.3, ppu: 1.256, y1: 243, y0: 347, xt: ticksMs600, lab: 'ii)', lx: 166, ly: 190,
   sets: [...glGrid(tSpikes, graysTopII), bold(tSpikes, yellowTopII, YELLOW), bold(tSpikes, purpleTopII, PURPLE),
          bold(tSpikes, greenTopII, GREEN), bold(tSpikes, redTopII, RED), bold(tSpikes, blueTopII, BLUE), bold(tSpikes, cyanTopII, CYAN)]},
  {x0: 224.3, ppu: 1.256, y1: 419, y0: 521.5, xt: ticksMs600, lab: 'iii)', lx: 166, ly: 367,
   sets: [...gl(graysTopIII), bold(yellowTopIIIt, yellowTopIIIv, YELLOW), bold(purpleTopIIIt, purpleTopIIIv, PURPLE),
          bold(greenTopIIIt, greenTopIIIv, GREEN), bold(redTopIIIt, redTopIIIv, RED), bold(blueTopIIIt, blueTopIIIv, BLUE),
          bold(cyanTopIIIt, cyanTopIIIv, CYAN)]},
  {x0: 224.3, ppu: 6.3, y1: 594.4, y0: 697.2, xt: ticksMs120, lab: 'iv)', lx: 166, ly: 537,
   sets: [...gl(graysTopIV), bold(purpleTopIVt, purpleTopIVv, PURPLE), bold(greenTopIVt, greenTopIVv, GREEN),
          bold(blueTopIVt, blueTopIVv, BLUE), bold(cyanTopIVt, cyanTopIVv, CYAN)]},
  {x0: 224.3, ppu: 2.796, y1: 770.9, y0: 872, xt: ticksMs250, lab: 'v)', lx: 166, ly: 717,
   sets: [...gl(graysTopV), bold(yellowTopVt, yellowTopVv, YELLOW), bold(greenTopVt, greenTopVv, GREEN),
          bold(redTopVt, redTopVv, RED), bold(blueTopVt, blueTopVv, BLUE), bold(cyanTopVt, cyanTopVv, CYAN)]},

  {x0: 226, ppu: 1.265, y1: 1147.4, y0: 1254, xt: ticksMs600, lab: 'i)', lx: 163, ly: 1119,
   sets: [...glGrid(tBotI, graysBotI), bold(tBotI, greenBotI, GREEN), bold(tBotI, redBotI, RED),
          bold(tBotI, blueBotI, BLUE), bold(tBotI, cyanBotI, CYAN)]},
  {x0: 226, ppu: 1.265, y1: 1332.3, y0: 1438.4, xt: ticksMs600, lab: 'ii)', lx: 163, ly: 1296,
   sets: [...glGrid(tSpikes, graysBotII), bold(tSpikes, greenBotII, GREEN), bold(tSpikes, redBotII, RED),
          bold(tSpikes, blueBotII, BLUE), bold(tSpikes, cyanBotII, CYAN)]},
  {x0: 226, ppu: 1.265, y1: 1516.5, y0: 1621.7, xt: ticksMs600, lab: 'iii)', lx: 163, ly: 1477,
   sets: [...gl(graysBotIII), bold(greenBotIIIt, greenBotIIIv, GREEN), bold(redBotIIIt, redBotIIIv, RED),
          bold(blueBotIIIt, blueBotIIIv, BLUE), bold(cyanBotIIIt, cyanBotIIIv, CYAN)]},
  {x0: 226, ppu: 6.345, y1: 1702, y0: 1807.9, xt: ticksMs120, lab: 'iv)', lx: 163, ly: 1647,
   sets: [...gl(graysBotIV), bold(greenBotIVt, greenBotIVv, GREEN), bold(cyanBotIVt, cyanBotIVv, CYAN),
          bold(redBotIVt, redBotIVv, RED), bold(blueBotIVt, blueBotIVv, BLUE)]},
  {x0: 226, ppu: 2.814, y1: 1884.8, y0: 1990.7, xt: ticksMs250, lab: 'v)', lx: 163, ly: 1841,
   sets: [...gl(graysBotV), bold(greenBotVt, greenBotVv, GREEN), bold(redBotVt, redBotVv, RED),
          bold(blueBotVt, blueBotVv, BLUE), bold(cyanBotVt, cyanBotVv, CYAN)]}
];
panels.forEach(panel);

// ---------- axis titles, title, cut-off legend ----------
const mctx = document.createElement('canvas').getContext('2d');
function fitWidth(font, measureText, target) {
  mctx.font = font;
  return target / mctx.measureText(measureText).width;
}

function yTitle(cx, cy) {
  const el = addText('current [nA]', 'axl', {fontSize: '60px', fontFamily: FONT});
  const k = fitWidth('60px ' + FONT, 'current [nA]', 302);
  const w = el.offsetWidth, h = el.offsetHeight;
  el.style.left = (cx - w / 2) + 'px';
  el.style.top = (cy - h / 2) + 'px';
  el.style.transform = 'rotate(-90deg) scaleX(' + k.toFixed(3) + ')';
}
yTitle(105, 466);
yTitle(105, 1524);

function xTitle(top) {
  const el = addText('t [ms]', 'axl', {fontSize: '55px', fontFamily: FONT});
  const k = fitWidth('55px ' + FONT, 't [ms]', 154);
  el.style.transformOrigin = '0 0';
  el.style.transform = 'scaleX(' + k.toFixed(3) + ')';
  el.style.left = '511px';
  el.style.top = top + 'px';
}
xTitle(904);
xTitle(2028);

const title = addText('Current traces with cluster prototypes', 'axl',
  {fontSize: '60px', fontFamily: '"Open Sans", sans-serif', fontStyle: 'italic', left: '93px', top: '1004px'});
const tk = fitWidth('italic 60px "Open Sans"', 'Current traces with cluster prototyp', 897);
title.style.transformOrigin = '0 0';
title.style.transform = 'scaleX(' + tk.toFixed(3) + ')';

// legend entries cut by the left edge of the figure
[['e*]', 1387], ['*]', 1515], ['pe*]', 1638], ['pe*]', 1770]].forEach(([s, y]) => {
  addText(s, 'frag', {fontSize: '22px', fontStyle: 'italic', right: (985 - 25) + 'px', top: (y - 12) + 'px'});
});
addText('mbiguous', 'frag', {fontSize: '16px', left: '-3px', top: '1976px'});
addText('types', 'frag', {fontSize: '16px', left: '-3px', top: '1994px'});
</script>
</body>
</html>
